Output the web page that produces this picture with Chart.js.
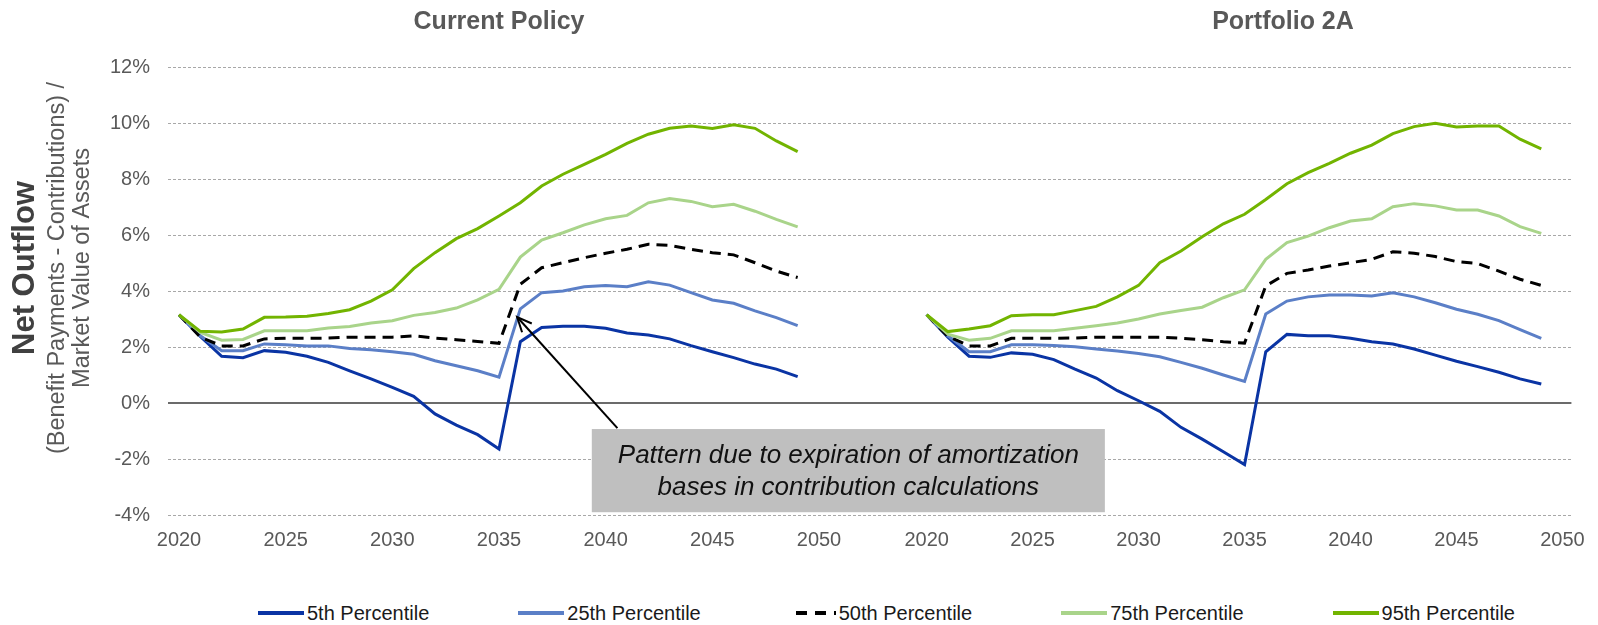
<!DOCTYPE html>
<html><head><meta charset="utf-8">
<script src="https://cdn.jsdelivr.net/npm/chart.js@4/dist/chart.umd.min.js"></script>
<style>
html,body{margin:0;padding:0;background:#fff;}
#wrap{position:relative;width:1598px;height:625px;overflow:hidden;font-family:"Liberation Sans",Arial,sans-serif;}
canvas{position:absolute;top:0;}
#cR{left:873px;z-index:1;}
#cL{left:0;z-index:2;}
.title{position:absolute;top:8px;line-height:25px;font-weight:bold;font-size:25px;color:#595959;transform:translateX(-50%);white-space:nowrap;z-index:3;}
#legend{position:absolute;top:601px;left:258px;display:flex;gap:89px;z-index:3;font-size:20px;line-height:24px;color:#1a1a1a;}
.li{display:flex;align-items:center;white-space:nowrap;}
.li svg{margin-right:3px;}
</style></head>
<body><div id="wrap">
<canvas id="cR" width="725" height="560"></canvas>
<canvas id="cL" width="1598" height="560"></canvas>
<div class="title" style="left:499px">Current Policy</div>
<div class="title" style="left:1283px">Portfolio 2A</div>
<div id="legend"></div>
</div>
<script>
// ---- data ----
const years = [2020,2021,2022,2023,2024,2025,2026,2027,2028,2029,2030,2031,2032,2033,2034,2035,2036,2037,2038,2039,2040,2041,2042,2043,2044,2045,2046,2047,2048,2049];
const xTickValues = [2020,2025,2030,2035,2040,2045,2050];
const yTickMin = -4, yTickMax = 12, yTickStep = 2;
const seriesNames = ['5th Percentile','25th Percentile','50th Percentile','75th Percentile','95th Percentile'];

// Current Policy (%)
const cp5  = [3.15,2.38,1.67,1.62,1.87,1.81,1.67,1.45,1.15,0.86,0.56,0.24,-0.39,-0.79,-1.13,-1.64,2.19,2.70,2.74,2.74,2.67,2.50,2.43,2.29,2.05,1.83,1.62,1.39,1.21,0.94];
const cp25 = [3.15,2.40,1.87,1.87,2.11,2.08,2.04,2.04,1.95,1.90,1.83,1.74,1.51,1.33,1.15,0.92,3.36,3.94,4.00,4.15,4.20,4.15,4.33,4.21,3.94,3.68,3.56,3.29,3.05,2.76];
const cp50 = [3.15,2.35,2.04,2.04,2.29,2.31,2.31,2.32,2.35,2.35,2.35,2.40,2.32,2.26,2.20,2.13,4.24,4.83,5.01,5.19,5.35,5.49,5.67,5.63,5.49,5.37,5.29,5.01,4.71,4.48];
const cp75 = [3.15,2.52,2.24,2.27,2.58,2.58,2.58,2.68,2.73,2.86,2.94,3.13,3.23,3.39,3.68,4.06,5.21,5.82,6.08,6.36,6.58,6.70,7.15,7.30,7.20,7.01,7.10,6.85,6.56,6.29];
const cp95 = [3.15,2.56,2.54,2.64,3.06,3.07,3.10,3.20,3.33,3.64,4.04,4.80,5.37,5.87,6.23,6.68,7.15,7.75,8.17,8.52,8.88,9.27,9.60,9.81,9.89,9.80,9.94,9.81,9.36,8.98];

// Portfolio 2A (%)
const pf5  = [3.15,2.35,1.67,1.63,1.79,1.74,1.55,1.21,0.89,0.44,0.08,-0.30,-0.87,-1.29,-1.74,-2.20,1.83,2.45,2.40,2.40,2.31,2.19,2.11,1.93,1.71,1.49,1.30,1.10,0.86,0.68];
const pf25 = [3.15,2.40,1.83,1.83,2.08,2.08,2.05,2.01,1.93,1.86,1.77,1.65,1.45,1.24,1.00,0.77,3.18,3.64,3.79,3.86,3.86,3.82,3.94,3.79,3.58,3.35,3.17,2.94,2.62,2.31];
const pf50 = [3.15,2.38,2.04,2.04,2.31,2.31,2.31,2.32,2.35,2.35,2.35,2.35,2.31,2.26,2.19,2.14,4.18,4.63,4.75,4.89,5.01,5.13,5.40,5.35,5.23,5.05,4.98,4.71,4.42,4.20];
const pf75 = [3.15,2.46,2.24,2.31,2.58,2.58,2.58,2.67,2.76,2.86,3.00,3.18,3.30,3.42,3.76,4.04,5.13,5.73,5.96,6.26,6.50,6.58,7.01,7.12,7.04,6.89,6.89,6.68,6.30,6.06];
const pf95 = [3.15,2.55,2.64,2.76,3.12,3.15,3.15,3.30,3.45,3.79,4.20,5.01,5.43,5.94,6.40,6.74,7.27,7.83,8.23,8.56,8.92,9.21,9.62,9.87,9.99,9.86,9.89,9.89,9.42,9.08];

// ---- styles ----
const colors = ['#0a34a4','#5b7fc7','#000000','#a9d48a','#72b400'];
const dashes = [[],[],[11,7],[],[]];

function makeDatasets(arrs){
  return arrs.map((arr,i)=>({
    label: seriesNames[i],
    data: years.map((yr,j)=>({x:yr,y:arr[j]})),
    borderColor: colors[i],
    backgroundColor: colors[i],
    borderWidth: 3,
    borderDash: dashes[i],
    pointRadius: 0,
    tension: 0,
    fill: false,
    order: arrs.length - i
  }));
}

const PX_PER_YEAR = 640/30;
const font = {family:'"Liberation Sans", Arial, sans-serif', size:20};

function gridOpts(){
  return {
    grid:{
      drawTicks:false,
      color: c => (c.tick && c.tick.value === 0) ? '#6b6b6b' : '#a8a8a8',
      lineWidth: c => (c.tick && c.tick.value === 0) ? 2 : 1
    },
    border:{display:false, dash: c => (c.tick && c.tick.value === 0) ? [] : [3,2]}
  };
}

function xScale(min,max){
  return {
    type:'linear', min:min, max:max,
    grid:{display:false, drawTicks:false},
    border:{display:false},
    ticks:{font:font, color:'#595959', padding:13, autoSkip:false, maxRotation:0, callback:v=>String(v)},
    afterBuildTicks: s => { s.ticks = xTickValues.map(v=>({value:v})); },
    afterFit: s => { s.height = 45; }
  };
}

// y-axis title (left chart)
const yTitlePlugin = {
  id:'yTitle',
  afterDraw(chart){
    const ctx = chart.ctx;
    ctx.save();
    ctx.textAlign='center'; ctx.textBaseline='middle';
    const lines = [
      {t:'Net Outflow', f:'bold 31px "Liberation Sans", Arial, sans-serif', c:'#404040', x:25},
      {t:'(Benefit Payments - Contributions) /', f:'23.5px "Liberation Sans", Arial, sans-serif', c:'#595959', x:58},
      {t:'Market Value of Assets', f:'23.5px "Liberation Sans", Arial, sans-serif', c:'#595959', x:83}
    ];
    lines.forEach(l=>{
      ctx.save(); ctx.translate(l.x, 268); ctx.rotate(-Math.PI/2);
      ctx.font=l.f; ctx.fillStyle=l.c; ctx.fillText(l.t,0,0); ctx.restore();
    });
    ctx.restore();
  }
};

const noteLines = ['Pattern due to expiration of amortization','bases in contribution calculations'];
const noteBox = {x0:2039.35, x1:2063.4, y0:-0.93, y1:-3.9};
const noteArrow = {fromX:2040.55, fromY:-0.9, toX:2035.85, toY:3.07};

const notePlugin = {
  id:'note',
  afterDatasetsDraw(chart){
    const ctx = chart.ctx, xs = chart.scales.x, ys = chart.scales.y;
    const bx0 = xs.getPixelForValue(noteBox.x0), bx1 = xs.getPixelForValue(noteBox.x1);
    const by0 = ys.getPixelForValue(noteBox.y0), by1 = ys.getPixelForValue(noteBox.y1);
    ctx.save();
    ctx.fillStyle='#bfbfbf';
    ctx.fillRect(bx0, by0, bx1-bx0, by1-by0);
    ctx.fillStyle='#111';
    ctx.font='italic 26px "Liberation Sans", Arial, sans-serif';
    ctx.textAlign='center'; ctx.textBaseline='middle';
    const cx=(bx0+bx1)/2, cy=(by0+by1)/2;
    ctx.fillText(noteLines[0], cx, cy-15);
    ctx.fillText(noteLines[1], cx, cy+17);
    // arrow
    const fx=xs.getPixelForValue(noteArrow.fromX), fy=ys.getPixelForValue(noteArrow.fromY);
    const tx=xs.getPixelForValue(noteArrow.toX), ty=ys.getPixelForValue(noteArrow.toY);
    ctx.strokeStyle='#000'; ctx.lineWidth=2;
    ctx.beginPath(); ctx.moveTo(fx,fy); ctx.lineTo(tx,ty); ctx.stroke();
    const ang=Math.atan2(ty-fy,tx-fx), L=16, sp=0.42;
    ctx.beginPath();
    ctx.moveTo(tx-L*Math.cos(ang-sp), ty-L*Math.sin(ang-sp));
    ctx.lineTo(tx,ty);
    ctx.lineTo(tx-L*Math.cos(ang+sp), ty-L*Math.sin(ang+sp));
    ctx.stroke();
    ctx.restore();
  }
};

const g = gridOpts();
const left = new Chart(document.getElementById('cL'), {
  type:'line',
  data:{datasets: makeDatasets([cp5,cp25,cp50,cp75,cp95])},
  options:{
    responsive:false, animation:false, devicePixelRatio:1,
    layout:{padding:{left:0,right:725,top:67,bottom:0}},
    plugins:{legend:{display:false}, tooltip:{enabled:false}},
    scales:{
      x: xScale(2020 - 11/PX_PER_YEAR, 2050 + 54/PX_PER_YEAR),
      y:{min:yTickMin,max:yTickMax,
         ticks:{stepSize:yTickStep, font:font, color:'#595959', padding:18, callback:v=>v+'%'},
         grid:g.grid, border:g.border,
         afterFit: s => { s.width = 168; }}
    }
  },
  plugins:[yTitlePlugin, notePlugin]
});

const right = new Chart(document.getElementById('cR'), {
  type:'line',
  data:{datasets: makeDatasets([pf5,pf25,pf50,pf75,pf95])},
  options:{
    responsive:false, animation:false, devicePixelRatio:1,
    layout:{padding:{left:0,right:22,top:67,bottom:0}},
    plugins:{legend:{display:false}, tooltip:{enabled:false}},
    scales:{
      x: xScale(2020 - 54/PX_PER_YEAR, 2050 + 9/PX_PER_YEAR),
      y:{min:yTickMin,max:yTickMax,
         ticks:{display:false, stepSize:yTickStep},
         grid:g.grid, border:g.border,
         afterFit: s => { s.width = 0; }}
    }
  }
});

// legend built from dataset definitions
const lg = document.getElementById('legend');
left.data.datasets.forEach(ds=>{
  const item = document.createElement('div'); item.className='li';
  const dash = (ds.borderDash && ds.borderDash.length) ? `stroke-dasharray="11 8" stroke-dashoffset="-6"` : '';
  item.innerHTML = `<svg width="46" height="8"><line x1="0" y1="4" x2="46" y2="4" stroke="${ds.borderColor}" stroke-width="4" ${dash}/></svg><span>${ds.label}</span>`;
  lg.appendChild(item);
});
</script>
</body></html>
